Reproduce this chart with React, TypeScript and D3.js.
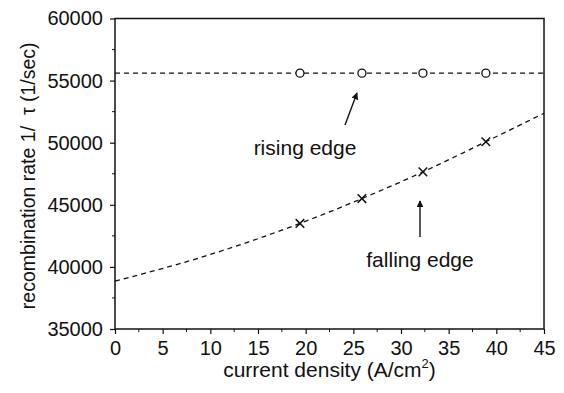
import { useEffect, useRef } from 'react'
import * as d3 from 'd3'

// measured current densities (A/cm^2)
const currentDensity = [19.4, 25.9, 32.3, 38.9]
// rising edge: 1/tau (1/sec)
const risingRate = [55600, 55600, 55600, 55600]
// falling edge: 1/tau (1/sec)
const fallingRate = [43500, 45500, 47650, 50080]
// dashed fit curves
const risingFitX = [0, 45]
const risingFitY = [55600, 55600]
const fallingFitX = [0, 10, 19.4, 25.9, 32.3, 38.9, 45]
const fallingFitY = [38850, 41000, 43500, 45500, 47650, 50080, 52370]

const xTicks = [0, 5, 10, 15, 20, 25, 30, 35, 40, 45]
const yTicks = [35000, 40000, 45000, 50000, 55000, 60000]

export default function App() {
  const ref = useRef<SVGSVGElement | null>(null)
  useEffect(() => {
    if (!ref.current) return
    const svg = d3.select(ref.current)
    svg.selectAll('*').remove()
    const width = 564
    const height = 393
    const margin = { top: 18.5, right: 20, bottom: 64, left: 115 }
    const font = '"Liberation Sans", Arial, sans-serif'

    const x = d3.scaleLinear().domain([0, 45]).range([margin.left, width - margin.right])
    const y = d3.scaleLinear().domain([35000, 60000]).range([height - margin.bottom, margin.top])

    svg.append('rect').attr('width', width).attr('height', height).attr('fill', '#fff')

    // frame
    svg
      .append('rect')
      .attr('x', x(0))
      .attr('y', y(60000))
      .attr('width', x(45) - x(0))
      .attr('height', y(35000) - y(60000))
      .attr('fill', 'none')
      .attr('stroke', '#111')
      .attr('stroke-width', 1.5)

    const xAxis = svg
      .append('g')
      .attr('transform', `translate(0,${y(35000)})`)
      .call(
        d3
          .axisBottom(x)
          .tickValues(xTicks)
          .tickSize(5)
          .tickFormat(d3.format('d'))
      )
    xAxis.select('.domain').remove()
    xAxis.selectAll('line').attr('stroke', '#111').attr('stroke-width', 1.2)
    xAxis
      .selectAll('text')
      .attr('font-family', font)
      .attr('font-size', 20)
      .attr('fill', '#111')
      .attr('dy', 0)
      .attr('y', 26)

    const xMinor = svg.append('g').attr('transform', `translate(0,${y(35000)})`)
    xMinor
      .selectAll('line')
      .data(d3.range(2.5, 45, 5))
      .enter()
      .append('line')
      .attr('x1', (d) => x(d))
      .attr('x2', (d) => x(d))
      .attr('y1', 0)
      .attr('y2', 3)
      .attr('stroke', '#111')

    const yAxis = svg
      .append('g')
      .attr('transform', `translate(${x(0)},0)`)
      .call(
        d3
          .axisLeft(y)
          .tickValues(yTicks)
          .tickSize(5)
          .tickFormat(d3.format('d'))
      )
    yAxis.select('.domain').remove()
    yAxis.selectAll('line').attr('stroke', '#111').attr('stroke-width', 1.2)
    yAxis
      .selectAll('text')
      .attr('font-family', font)
      .attr('font-size', 20)
      .attr('fill', '#111')
      .attr('x', -12)

    const yMinor = svg.append('g').attr('transform', `translate(${x(0)},0)`)
    yMinor
      .selectAll('line')
      .data(d3.range(37500, 60000, 5000))
      .enter()
      .append('line')
      .attr('x1', -3)
      .attr('x2', 0)
      .attr('y1', (d) => y(d))
      .attr('y2', (d) => y(d))
      .attr('stroke', '#111')

    // fits
    const line = d3
      .line<[number, number]>()
      .x((d) => x(d[0]))
      .y((d) => y(d[1]))
      .curve(d3.curveMonotoneX)
    const fits = [
      risingFitX.map((v, i) => [v, risingFitY[i]] as [number, number]),
      fallingFitX.map((v, i) => [v, fallingFitY[i]] as [number, number]),
    ]
    svg
      .append('g')
      .selectAll('path')
      .data(fits)
      .enter()
      .append('path')
      .attr('d', (d) => line(d))
      .attr('fill', 'none')
      .attr('stroke', '#111')
      .attr('stroke-width', 1.3)
      .attr('stroke-dasharray', '5,4')

    // rising edge circles
    svg
      .append('g')
      .selectAll('circle')
      .data(currentDensity)
      .enter()
      .append('circle')
      .attr('cx', (d) => x(d))
      .attr('cy', (_, i) => y(risingRate[i]))
      .attr('r', 4)
      .attr('fill', '#fff')
      .attr('stroke', '#111')
      .attr('stroke-width', 1.3)

    // falling edge crosses
    const cross = d3.symbol().type(d3.symbolX).size(50)
    svg
      .append('g')
      .selectAll('path')
      .data(currentDensity)
      .enter()
      .append('path')
      .attr('d', cross)
      .attr('transform', (d, i) => `translate(${x(d)},${y(fallingRate[i])})`)
      .attr('fill', 'none')
      .attr('stroke', '#111')
      .attr('stroke-width', 1.5)

    // annotations
    const ann = svg.append('g').attr('font-family', font).attr('font-size', 21).attr('fill', '#111')
    ann.append('text').attr('x', 305).attr('y', 155).attr('text-anchor', 'middle').text('rising edge')
    ann.append('text').attr('x', 420).attr('y', 267).attr('text-anchor', 'middle').text('falling edge')

    const defs = svg.append('defs')
    defs
      .append('marker')
      .attr('id', 'arrow')
      .attr('viewBox', '0 0 10 10')
      .attr('refX', 9)
      .attr('refY', 5)
      .attr('markerWidth', 5)
      .attr('markerHeight', 5)
      .attr('orient', 'auto')
      .append('path')
      .attr('d', 'M0,0 L10,5 L0,10 z')
      .attr('fill', '#111')
    svg
      .append('line')
      .attr('x1', 345)
      .attr('y1', 125)
      .attr('x2', 357)
      .attr('y2', 93)
      .attr('stroke', '#111')
      .attr('stroke-width', 1.4)
      .attr('marker-end', 'url(#arrow)')
    svg
      .append('line')
      .attr('x1', 420)
      .attr('y1', 237)
      .attr('x2', 420)
      .attr('y2', 201)
      .attr('stroke', '#111')
      .attr('stroke-width', 1.4)
      .attr('marker-end', 'url(#arrow)')

    // axis titles
    const xt = svg
      .append('text')
      .attr('x', (x(0) + x(45)) / 2)
      .attr('y', 377)
      .attr('text-anchor', 'middle')
      .attr('font-family', font)
      .attr('font-size', 21)
      .attr('fill', '#111')
    xt.append('tspan').text('current density (A/cm')
    xt.append('tspan').attr('font-size', 13).attr('dy', -9).text('2')
    xt.append('tspan').attr('dy', 9).text(')')

    svg
      .append('text')
      .attr('transform', `translate(35,${(y(35000) + y(60000)) / 2 + 2}) rotate(-90)`)
      .attr('text-anchor', 'middle')
      .attr('font-family', font)
      .attr('font-size', 19.5)
      .attr('fill', '#111')
      .style('white-space', 'pre')
      .text('recombination rate 1/  \u03c4 (1/sec)')
  }, [])
  return (
    <svg
      ref={ref}
      width={564}
      height={393}
      style={{ position: 'absolute', left: 0, top: 0, display: 'block' }}
    />
  )
}
